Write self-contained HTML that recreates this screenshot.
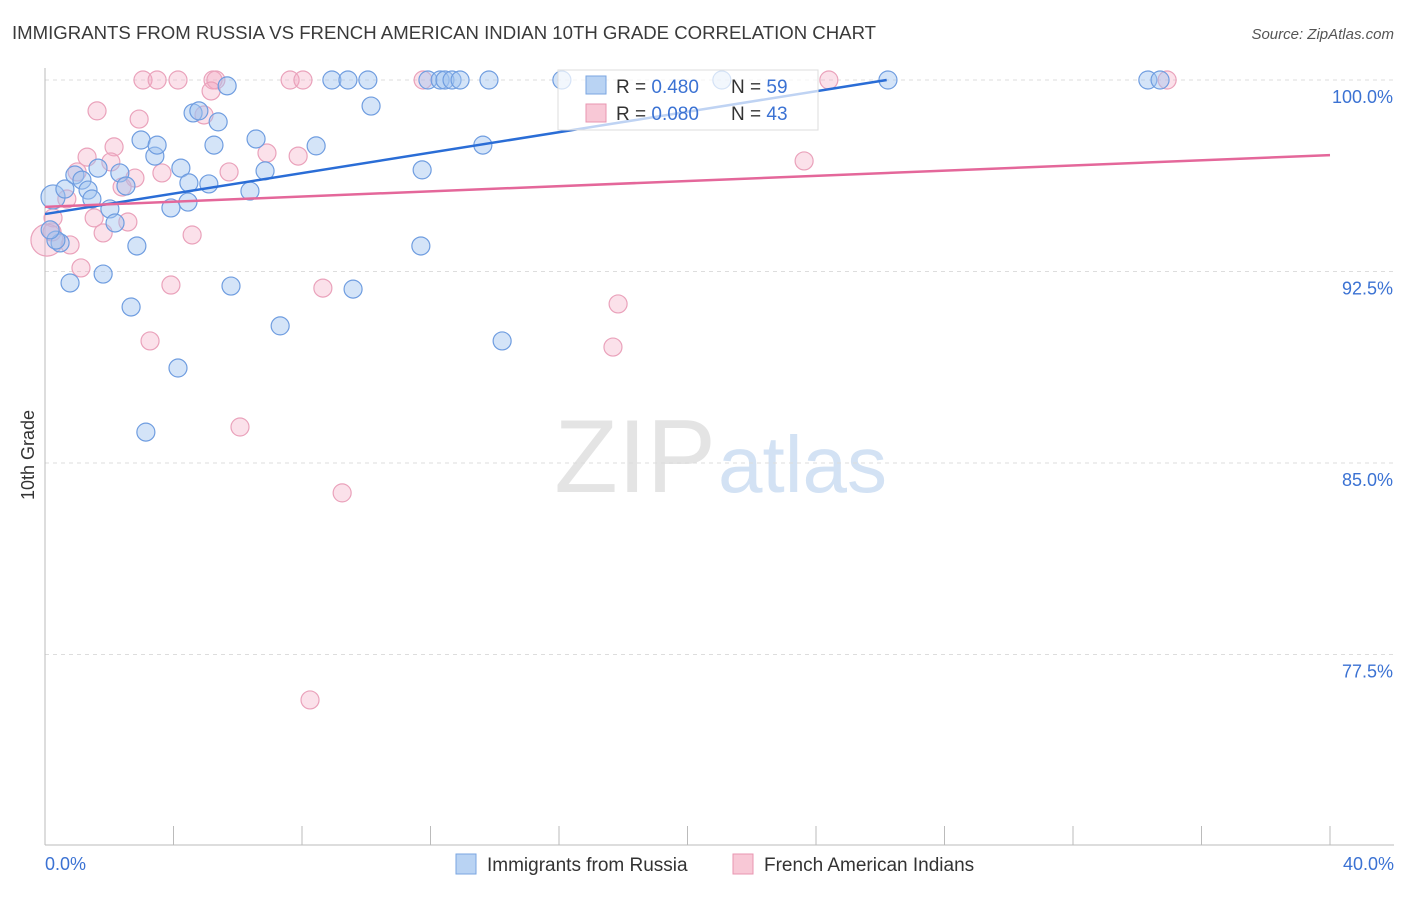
<!DOCTYPE html>
<html><head><meta charset="utf-8"><style>
body{margin:0;background:#fff;font-family:"Liberation Sans",sans-serif;}
svg text{font-family:"Liberation Sans",sans-serif;}
</style></head><body>
<svg id="c" width="1406" height="892" viewBox="0 0 1406 892">
<text x="12" y="39" font-size="18.6" fill="#3a3a3a">IMMIGRANTS FROM RUSSIA VS FRENCH AMERICAN INDIAN 10TH GRADE CORRELATION CHART</text>
<text x="1394" y="39" font-size="15" fill="#555" font-style="italic" text-anchor="end">Source: ZipAtlas.com</text>
<text x="716" y="492" font-size="104" fill="#e4e4e4" text-anchor="end" font-family="Liberation Serif">ZIP</text>
<text x="718" y="492" font-size="80" fill="#d3e2f4">atlas</text>
<text x="34" y="455" font-size="18" fill="#333" text-anchor="middle" transform="rotate(-90 34 455)">10th Grade</text>
<g id="grid"></g><g id="axes"></g><g id="pts"></g><g id="trend"></g>
<g>
<rect x="558" y="70" width="260" height="60" fill="#fff" fill-opacity="0.7" stroke="#ddd"/>
<rect x="586" y="76" width="20" height="18" fill="#b9d3f3" stroke="#7aa6e0"/>
<text x="616" y="93" font-size="19" fill="#333">R = <tspan fill="#3b72d3">0.480</tspan></text>
<text x="731" y="93" font-size="19" fill="#333">N = <tspan fill="#3b72d3">59</tspan></text>
<rect x="586" y="104" width="20" height="18" fill="#f8c8d6" stroke="#e896b0"/>
<text x="616" y="120" font-size="19" fill="#333">R = <tspan fill="#3b72d3">0.080</tspan></text>
<text x="731" y="120" font-size="19" fill="#333">N = <tspan fill="#3b72d3">43</tspan></text>
</g>
<g>
<rect x="456" y="854" width="20" height="20" fill="#b9d3f3" stroke="#7aa6e0"/>
<text x="487" y="871" font-size="19" fill="#333">Immigrants from Russia</text>
<rect x="733" y="854" width="20" height="20" fill="#f8c8d6" stroke="#e896b0"/>
<text x="764" y="871" font-size="19" fill="#333">French American Indians</text>
</g>
</svg>
<script>
const blueX=[0.25,0.62,0.93,1.15,1.34,1.46,1.65,2.02,2.18,2.33,2.52,2.86,2.68,2.99,3.14,3.42,3.49,3.92,4.14,4.23,4.48,4.61,4.45,5.10,5.26,5.39,5.67,5.79,6.38,6.57,6.85,7.32,8.44,8.93,9.43,9.59,10.05,10.15,11.70,11.74,11.92,12.30,12.45,12.67,12.92,13.63,13.82,14.23,16.09,21.07,26.24,34.33,34.71,0.78,1.81,0.47,0.34,4.79,0.16];
const blueY=[95.42,95.73,96.28,96.08,95.69,95.34,96.55,94.95,94.40,96.36,95.85,93.50,91.11,97.65,86.21,97.02,97.45,94.99,88.72,96.55,95.97,98.71,95.22,95.93,97.45,98.36,99.77,91.93,95.65,97.69,96.44,90.37,97.42,100,100,91.81,100,98.98,93.50,96.48,100,100,100,100,100,97.45,100,89.78,100,100,100,100,100,92.05,92.40,93.62,93.73,98.79,94.13];
const pinkX=[3.05,3.49,4.14,5.23,5.32,7.63,8.03,11.77,24.40,34.93,1.62,5.17,4.95,2.93,2.15,2.05,1.31,1.00,6.91,7.88,5.73,3.64,2.80,2.40,0.68,0.25,1.53,2.58,1.81,4.58,0.78,1.12,3.92,8.65,3.27,6.07,9.25,8.25,17.68,17.84,23.63,0.06,0.22];
const pinkY=[100,100,100,100,100,100,100,100,100,100,98.79,99.57,98.63,98.47,97.38,96.79,96.98,96.40,97.14,97.02,96.40,96.36,96.16,95.81,95.34,94.60,94.60,94.44,94.01,93.93,93.54,92.64,91.97,91.85,89.78,86.41,83.83,75.72,89.54,91.23,96.83,93.73,94.05];
const yTicks=[100,92.5,85,77.5];
const yTickLabels=["100.0%","92.5%","85.0%","77.5%"];
const blueTrend=[0,94.75,26.2,100];
const pinkTrend=[0,95.03,40,97.06];
const NS='http://www.w3.org/2000/svg';
const X=v=>45+v/40*1285, Y=v=>80+(100-v)/7.5*191.5;
function mk(tag,attrs,parent){const e=document.createElementNS(NS,tag);for(const k in attrs)e.setAttribute(k,attrs[k]);document.getElementById(parent).appendChild(e);return e;}
yTicks.forEach((t,i)=>{
 const l=mk('line',{x1:45,x2:1394,y1:Y(t),y2:Y(t),stroke:'#ddd','stroke-dasharray':'4,4'},'grid');
 
 
 const tx=mk('text',{x:1393,y:Y(t)+23,'font-size':18,fill:'#3b72d3','text-anchor':'end'},'grid');
 tx.textContent=yTickLabels[i];
 
 
});
let a=mk('line',{x1:45,x2:45,y1:68,y2:845,stroke:'#bbb'},'axes');


a=mk('line',{x1:45,x2:1394,y1:845,y2:845,stroke:'#bbb'},'axes');


for(let i=1;i<=10;i++){const t=mk('line',{x1:X(i*4),x2:X(i*4),y1:826,y2:845,stroke:'#bbb'},'axes');
 
 }
let xl=mk('text',{x:45,y:870,'font-size':18,fill:'#3b72d3'},'axes');xl.textContent='0.0%';


xl=mk('text',{x:1394,y:870,'font-size':18,fill:'#3b72d3','text-anchor':'end'},'axes');xl.textContent='40.0%';


pinkX.forEach((v,i)=>{const c=mk('circle',{cx:X(v),cy:Y(pinkY[i]),r:i===41?16:9,fill:'rgba(244,170,195,0.35)',stroke:'#eaa2bb','stroke-width':1.2},'pts');
 
 });
blueX.forEach((v,i)=>{const c=mk('circle',{cx:X(v),cy:Y(blueY[i]),r:i===0?12:9,fill:'rgba(160,196,240,0.45)',stroke:'#6f9de0','stroke-width':1.2},'pts');
 
 });
let tl=mk('line',{x1:X(blueTrend[0]),y1:Y(blueTrend[1]),x2:X(blueTrend[2]),y2:Y(blueTrend[3]),stroke:'#2a6dd6','stroke-width':2.5},'trend');


tl=mk('line',{x1:X(pinkTrend[0]),y1:Y(pinkTrend[1]),x2:X(pinkTrend[2]),y2:Y(pinkTrend[3]),stroke:'#e4679a','stroke-width':2.5},'trend');


</script>
</body></html>
